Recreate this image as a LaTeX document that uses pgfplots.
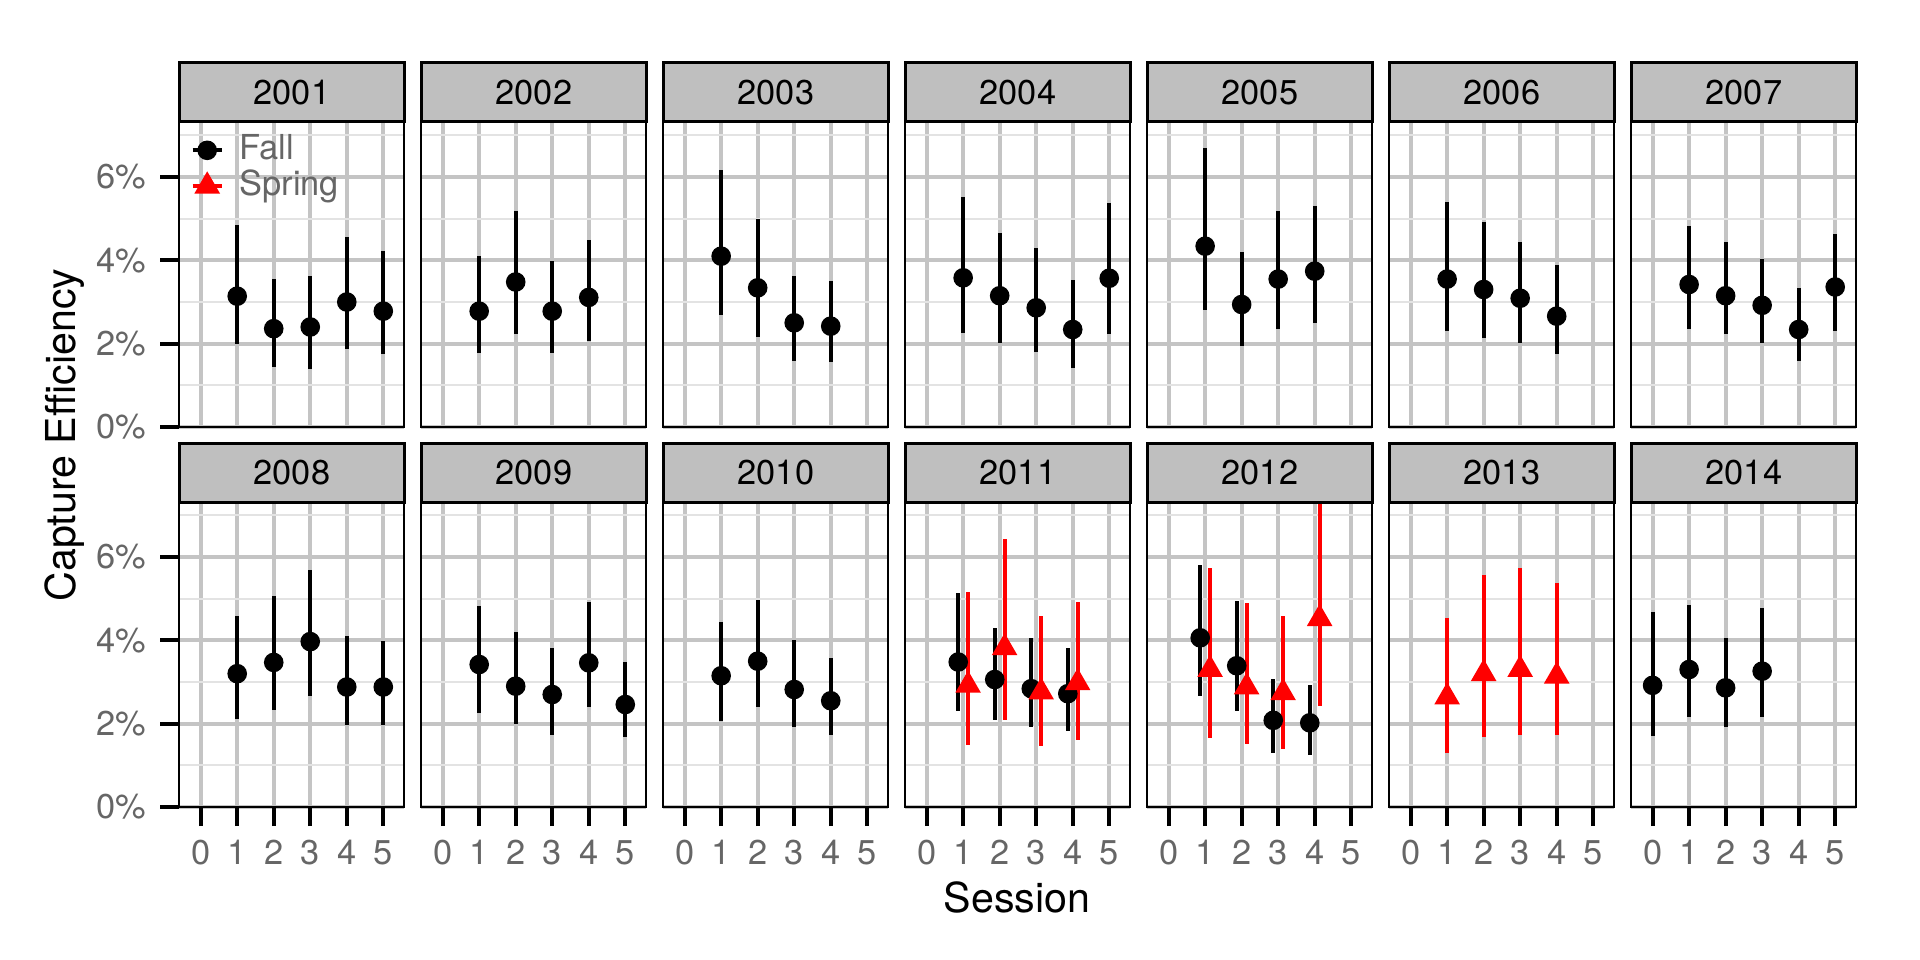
\documentclass[border=0pt]{standalone}
\usepackage{fontspec}
\setmainfont{TeX Gyre Heros}
\usepackage{pgfplots}
\pgfplotsset{compat=1.18}
\usepgfplotslibrary{groupplots}
\usetikzlibrary{calc}
\definecolor{tickgray}{HTML}{666666}
\definecolor{gridmaj}{HTML}{C4C4C4}
\definecolor{gridmin}{HTML}{E3E3E3}
\definecolor{stripgray}{HTML}{BFBFBF}
\newcommand{\smallfont}{\fontsize{8.6}{10}\selectfont}
\newcommand{\labfont}{\fontsize{10.3}{12}\selectfont}
\pgfplotsset{
  table/pr/.style={x=x,y=y,
    y error plus expr={\thisrow{hi}-\thisrow{y}},
    y error minus expr={\thisrow{y}-\thisrow{lo}}},
  legend image code/.code={%
    \draw[#1,line width=1pt] (0pt,0pt) -- (7.25pt,0pt);
    \draw[#1] plot coordinates {(3.625pt,0pt)};},
  fall/.style={only marks, black, mark=*, mark size=2.25pt,
    error bars/y dir=both, error bars/y explicit, error bars/error mark=none,
    error bars/error bar style={line width=1pt, black}},
  spring/.style={only marks, red, mark=triangle*, mark size=3.3pt,
    error bars/y dir=both, error bars/y explicit, error bars/error mark=none,
    error bars/error bar style={line width=1pt, red}},
  top/.style={xtick style={draw=none}},
  inner/.style={ytick style={draw=none}},
}
\begin{document}
\begin{tikzpicture}
\begin{groupplot}[
  group style={group name=G, group size=7 by 2,
    horizontal sep=4.25pt, vertical sep=18.75pt,
    xticklabels at=edge bottom, yticklabels at=edge left},
  width=56.25pt, height=76.25pt, scale only axis,
  xmin=-0.58, xmax=5.58, ymin=0, ymax=7.32,
  xtick={0,1,2,3,4,5}, ytick={0,2,4,6},
  yticklabels={0\%,2\%,4\%,6\%},
  minor ytick={1,3,5,7},
  xmajorgrids, ymajorgrids, yminorgrids,
  major grid style={gridmaj, line width=1pt},
  minor grid style={gridmin, line width=0.5pt},
  minor tick length=0pt,
  axis line style={black, line width=0.5pt},
  tick align=outside, xtick pos=bottom, ytick pos=left,
  major tick length=4.75pt,
  xtick style={black, line width=1pt},
  ytick style={black, line width=1pt},
  ticklabel style={font=\smallfont, text=tickgray},
  /pgf/number format/assume math mode=true,
  every axis title/.style={at={(0.5,1)}, anchor=south, fill=stripgray,
    draw=black, line width=0.75pt, minimum width=56.25pt,
    minimum height=14.75pt, inner sep=0pt, outer sep=0pt,
    font=\smallfont, text=black},
]
% ---- row 1 ----
\nextgroupplot[title={2001}, top,
  legend style={at={(0,1)}, anchor=north west, xshift=2.6pt, yshift=-2.2pt,
    draw=none, fill=none, inner sep=0pt, row sep=-0.5pt, column sep=3.2pt,
    nodes={inner sep=0.8pt, font=\smallfont, text=tickgray}},
  legend cell align=left]
\addlegendimage{black, mark=*, mark size=2.25pt}
\addlegendentry{Fall}
\addlegendimage{red, mark=triangle*, mark size=3.3pt}
\addlegendentry{Spring}
\addplot[forget plot, fall] table[pr] {
x y lo hi
1 3.14 2.00 4.84
2 2.36 1.44 3.54
3 2.40 1.40 3.63
4 3.00 1.86 4.57
5 2.78 1.74 4.22
};
\nextgroupplot[title={2002}, top, inner]
\addplot[fall] table[pr] {
x y lo hi
1 2.78 1.78 4.10
2 3.48 2.24 5.19
3 2.78 1.78 3.99
4 3.11 2.06 4.49
};
\nextgroupplot[title={2003}, top, inner]
\addplot[fall] table[pr] {
x y lo hi
1 4.10 2.68 6.16
2 3.34 2.16 4.98
3 2.50 1.58 3.62
4 2.42 1.57 3.50
};
\nextgroupplot[title={2004}, top, inner]
\addplot[fall] table[pr] {
x y lo hi
1 3.58 2.26 5.53
2 3.15 2.02 4.66
3 2.86 1.80 4.30
4 2.34 1.41 3.52
5 3.57 2.24 5.38
};
\nextgroupplot[title={2005}, top, inner]
\addplot[fall] table[pr] {
x y lo hi
1 4.34 2.80 6.70
2 2.94 1.94 4.20
3 3.55 2.36 5.18
4 3.74 2.50 5.30
};
\nextgroupplot[title={2006}, top, inner]
\addplot[fall] table[pr] {
x y lo hi
1 3.55 2.30 5.40
2 3.30 2.14 4.92
3 3.09 2.02 4.44
4 2.66 1.76 3.88
};
\nextgroupplot[title={2007}, top, inner]
\addplot[fall] table[pr] {
x y lo hi
1 3.42 2.36 4.82
2 3.15 2.22 4.44
3 2.92 2.01 4.04
4 2.34 1.58 3.33
5 3.36 2.30 4.62
};
% ---- row 2 ----
\nextgroupplot[title={2008}]
\addplot[fall] table[pr] {
x y lo hi
1 3.20 2.11 4.58
2 3.47 2.34 5.06
3 3.97 2.67 5.68
4 2.88 1.96 4.11
5 2.88 1.96 3.98
};
\nextgroupplot[title={2009}, inner]
\addplot[fall] table[pr] {
x y lo hi
1 3.42 2.26 4.82
2 2.90 1.99 4.21
3 2.70 1.72 3.82
4 3.46 2.39 4.92
5 2.46 1.68 3.49
};
\nextgroupplot[title={2010}, inner]
\addplot[fall] table[pr] {
x y lo hi
1 3.15 2.06 4.44
2 3.50 2.39 4.98
3 2.82 1.92 4.01
4 2.55 1.74 3.57
};
\nextgroupplot[title={2011}, inner]
\addplot[fall] table[pr] {
x y lo hi
0.865 3.48 2.31 5.13
1.865 3.06 2.08 4.30
2.865 2.84 1.92 4.05
3.865 2.72 1.82 3.82
};
\addplot[spring] table[pr] {
x y lo hi
1.135 2.92 1.48 5.15
2.135 3.82 2.10 6.43
3.135 2.76 1.46 4.58
4.135 2.98 1.60 4.92
};
\nextgroupplot[title={2012}, inner]
\addplot[fall] table[pr] {
x y lo hi
0.865 4.06 2.66 5.82
1.865 3.39 2.30 4.94
2.865 2.08 1.30 3.08
3.865 2.02 1.25 2.94
};
\addplot[spring] table[pr] {
x y lo hi
1.135 3.30 1.66 5.74
2.135 2.88 1.52 4.90
3.135 2.74 1.40 4.58
4.135 4.52 2.43 7.60
};
\nextgroupplot[title={2013}, inner]
\addplot[spring] table[pr] {
x y lo hi
1 2.64 1.30 4.54
2 3.20 1.68 5.58
3 3.30 1.74 5.73
4 3.14 1.74 5.38
};
\nextgroupplot[title={2014}, inner]
\addplot[fall] table[pr] {
x y lo hi
0 2.92 1.70 4.69
1 3.30 2.16 4.86
2 2.86 1.92 4.05
3 3.26 2.16 4.77
};
\end{groupplot}
\pgfresetboundingbox
\begin{scope}[shift={($(G c1r1.north west)+(-44.875pt,30.5pt)$)}, x=0.25pt, y=-0.25pt]
  \path (0,0) rectangle (1920,960);
  \node[rotate=90, font=\labfont] at (65,435) {Capture Efficiency};
  \node[font=\labfont] at (1017,897) {Session};
\end{scope}
\end{tikzpicture}
\end{document}
